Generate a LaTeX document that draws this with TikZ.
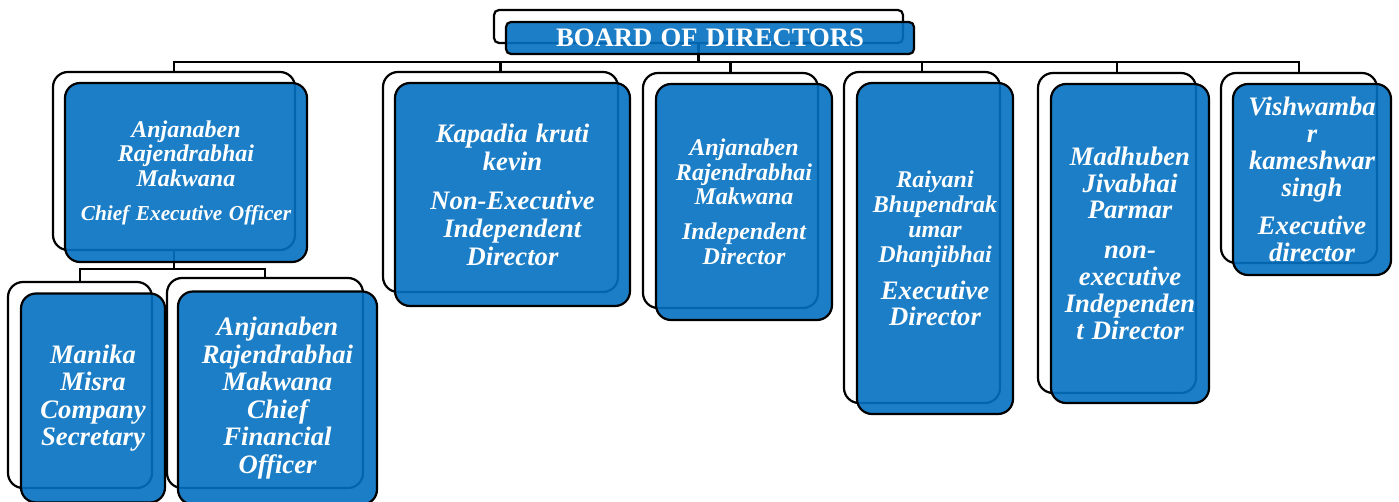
\documentclass[tikz,border=0pt]{standalone}
\usepackage{fontspec}
\setmainfont{Liberation Serif}
\definecolor{sablue}{RGB}{3,112,192}
\tikzset{
  backbox/.style={draw=black, line width=2.2pt, fill=white, rounded corners=15pt, inner sep=0pt, outer sep=0pt},
  frontbox/.style={draw=black, line width=2.2pt, fill=sablue, fill opacity=0.9, draw opacity=1, text opacity=1,
    text=white, rounded corners=15pt, inner sep=3pt, outer sep=0pt, align=center, font=\bfseries\itshape},
  conn/.style={draw=black, line width=2.2pt},
}
\newcommand{\orgsz}[2]{\fontsize{#1}{#2}\selectfont\spaceskip=0.31em\relax}
\begin{document}
\begin{tikzpicture}[x=1pt,y=-1pt]
\useasboundingbox (0,0) rectangle (1399,502);
% back boxes
\node[backbox, rounded corners=5pt, minimum width=409pt, minimum height=33pt] (boardB) at (698.5,26.5) {};
\node[backbox, minimum width=242pt, minimum height=178pt] (ceoB) at (174,161) {};
\node[backbox, minimum width=144pt, minimum height=206pt] (manB) at (80,385) {};
\node[backbox, minimum width=196pt, minimum height=210pt] (cfoB) at (265,383) {};
\node[backbox, minimum width=235pt, minimum height=220pt] (kapB) at (500.5,182) {};
\node[backbox, minimum width=175pt, minimum height=235pt] (anjB) at (730.5,190.5) {};
\node[backbox, minimum width=156pt, minimum height=331pt] (raiB) at (922,237.5) {};
\node[backbox, minimum width=158pt, minimum height=320pt] (madB) at (1117,233) {};
\node[backbox, minimum width=156pt, minimum height=190pt] (visB) at (1299,168) {};
% connectors
\draw[conn] (boardB.south) -- ++(0,19) -| (ceoB.north);
\draw[conn] (boardB.south) -- ++(0,19) -| (kapB.north);
\draw[conn] (boardB.south) -- ++(0,19) -| (anjB.north);
\draw[conn] (boardB.south) -- ++(0,19) -| (raiB.north);
\draw[conn] (boardB.south) -- ++(0,19) -| (madB.north);
\draw[conn] (boardB.south) -- ++(0,19) -| (visB.north);
\draw[conn] (ceoB.south) -- ++(0,19) -| (manB.north);
\draw[conn] (ceoB.south) -- ++(0,19) -| (cfoB.north);
% front boxes
\node[frontbox, rounded corners=5pt, minimum width=408pt, minimum height=32pt, font=\bfseries, text width=400pt] (board) at (710,38)
  {\orgsz{26.67}{28}BOARD OF DIRECTORS};
\node[frontbox, minimum width=242pt, minimum height=179pt, text width=236pt] (ceo) at (186,172.5)
  {{\orgsz{24}{24.5}Anjanaben\\Rajendrabhai\\Makwana\par}\vspace{10pt}{\orgsz{21.3}{24}Chief Executive Officer\par}};
\node[frontbox, minimum width=144pt, minimum height=209pt, text width=138pt] (man) at (93,398)
  {\orgsz{26.67}{27.5}Manika\\Misra\\Company\\Secretary\par};
\node[frontbox, minimum width=199pt, minimum height=213pt, text width=193pt] (cfo) at (277.5,398)
  {\orgsz{26.67}{27.5}Anjanaben\\Rajendrabhai\\Makwana\\Chief\\Financial\\Officer\par};
\node[frontbox, minimum width=235pt, minimum height=223pt, text width=229pt] (kap) at (512.5,194.5)
  {{\orgsz{26.67}{28}Kapadia kruti\\kevin\par}\vspace{11pt}{\orgsz{26.67}{28}Non-Executive\\Independent\\Director\par}};
\node[frontbox, minimum width=176pt, minimum height=236pt, text width=170pt] (anj) at (744,202)
  {{\orgsz{24}{24.5}Anjanaben\\Rajendrabhai\\Makwana\par}\vspace{10pt}{\orgsz{24}{25}Independent\\Director\par}};
\node[frontbox, minimum width=156pt, minimum height=331pt, text width=150pt] (rai) at (935,248.5)
  {{\orgsz{24}{25}Raiyani\\Bhupendrak\\umar\\Dhanjibhai\par}\vspace{10pt}{\orgsz{26.67}{26.7}Executive\\Director\par}};
\node[frontbox, minimum width=158pt, minimum height=319pt, text width=152pt] (mad) at (1130,243.5)
  {{\orgsz{26.67}{26.7}Madhuben\\Jivabhai\\Parmar\par}\vspace{13pt}{\orgsz{26.67}{27}non-\\executive\\Independen\\t Director\par}};
\node[frontbox, minimum width=158pt, minimum height=191pt, text width=152pt] (vis) at (1312,179.5)
  {{\orgsz{26.67}{27}Vishwamba\\r\\kameshwar\\singh\par}\vspace{11pt}{\orgsz{26.67}{27}Executive\\director\par}};
\end{tikzpicture}
\end{document}
